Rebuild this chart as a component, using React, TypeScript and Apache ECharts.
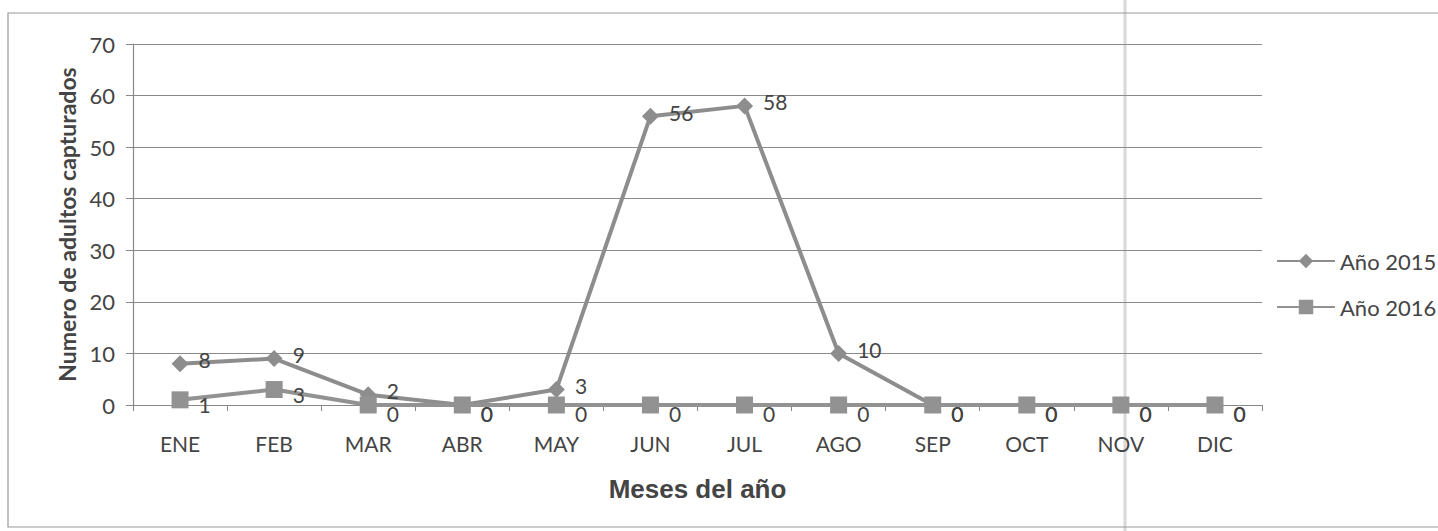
import React, { useEffect, useRef } from "react";
import * as echarts from "echarts";

const months = ["ENE", "FEB", "MAR", "ABR", "MAY", "JUN", "JUL", "AGO", "SEP", "OCT", "NOV", "DIC"];
const serie2015 = [8, 9, 2, 0, 3, 56, 58, 10, 0, 0, 0, 0];
const serie2016 = [1, 3, 0, 0, 0, 0, 0, 0, 0, 0, 0, 0];
const seriesNames = ["Año 2015", "Año 2016"];

export default function App() {
  const ref = useRef<HTMLDivElement>(null);
  useEffect(() => {
    document.body.style.margin = "0";
    const chart = echarts.init(ref.current!, null, { renderer: "svg" });
    const font = "Lato, 'Open Sans', sans-serif";
    const mkLabel = (dy: number) => ({
      show: true,
      position: "right" as const,
      distance: 10,
      offset: [0, dy],
      fontSize: 21,
      color: "#444",
      fontFamily: font,
    });
    const toItems = (vals: number[], dyNonZero: number, dyZero: number) =>
      vals.map((v) => ({ value: v, label: { offset: [0, v === 0 ? dyZero : dyNonZero] } }));
    chart.setOption({
      animation: false,
      backgroundColor: "#fff",
      grid: { left: 133, right: 176, top: 44, bottom: 126 },
      graphic: [
        {
          type: "rect",
          shape: { x: 8, y: 13, width: 1440, height: 514 },
          style: { fill: "none", stroke: "#999", lineWidth: 1.2 },
        },
        {
          type: "line",
          shape: { x1: 1125, y1: 0, x2: 1125, y2: 531 },
          style: { stroke: "#d8d8d8", lineWidth: 3 },
          z: -1,
        },
      ],
      legend: {
        orient: "vertical",
        left: 1271,
        top: 245,
        itemGap: 24,
        itemWidth: 58,
        itemHeight: 18,
        textStyle: { fontSize: 22, color: "#444", fontFamily: font },
        data: seriesNames,
      },
      xAxis: {
        type: "category",
        data: months,
        boundaryGap: true,
        name: "Meses del año",
        nameLocation: "middle",
        nameGap: 71,
        nameTextStyle: { fontSize: 26, fontWeight: "bold", color: "#444", fontFamily: "'Liberation Sans', Arial, sans-serif" },
        axisLine: { lineStyle: { color: "#888", width: 1.2 } },
        axisTick: { show: true, length: 6, lineStyle: { color: "#888" } },
        axisLabel: { fontSize: 21, color: "#444", margin: 28, fontFamily: font },
      },
      yAxis: {
        type: "value",
        min: 0,
        max: 70,
        interval: 10,
        name: "Numero de adultos capturados",
        nameLocation: "middle",
        nameGap: 53,
        nameTextStyle: { fontSize: 23, fontWeight: "bold", color: "#444", fontFamily: font },
        axisLine: { show: true, lineStyle: { color: "#888", width: 1.2 } },
        axisTick: { show: true, length: 7, lineStyle: { color: "#888" } },
        axisLabel: { fontSize: 22, color: "#444", margin: 18, fontFamily: font },
        splitLine: { show: true, lineStyle: { color: "#8a8a8a", width: 1 } },
      },
      series: [
        {
          name: seriesNames[0],
          type: "line",
          data: toItems(serie2015, -4, 8),
          symbol: "diamond",
          symbolSize: 17,
          lineStyle: { color: "#8d8d8d", width: 4 },
          itemStyle: { color: "#8d8d8d" },
          label: mkLabel(-4),
          z: 2,
        },
        {
          name: seriesNames[1],
          type: "line",
          data: toItems(serie2016, 5, 8),
          symbol: "rect",
          symbolSize: 17,
          lineStyle: { color: "#929292", width: 4 },
          itemStyle: { color: "#929292" },
          label: mkLabel(5),
          z: 3,
        },
      ],
    });
    return () => chart.dispose();
  }, []);
  return <div ref={ref} style={{ width: 1438, height: 531 }} />;
}
